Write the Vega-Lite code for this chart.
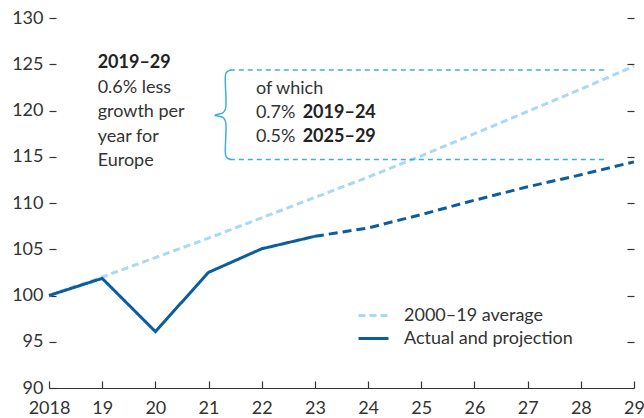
{
  "$schema": "https://vega.github.io/schema/vega-lite/v6.json",
  "width": 585,
  "height": 370,
  "autosize": "none",
  "padding": {"left": 49, "top": 18, "right": 10, "bottom": 30},
  "background": "white",
  "config": {
    "view": {"stroke": null},
    "font": "Lato",
    "text": {"font": "Lato", "fontSize": 18, "color": "#333333"}
  },
  "datasets": {
    "main": [
      {"year": 2018, "value": 100, "series": "2000–19 average"},
      {"year": 2019, "value": 102.0, "series": "2000–19 average"},
      {"year": 2020, "value": 104.1, "series": "2000–19 average"},
      {"year": 2021, "value": 106.2, "series": "2000–19 average"},
      {"year": 2022, "value": 108.4, "series": "2000–19 average"},
      {"year": 2023, "value": 110.6, "series": "2000–19 average"},
      {"year": 2024, "value": 112.8, "series": "2000–19 average"},
      {"year": 2025, "value": 115.1, "series": "2000–19 average"},
      {"year": 2026, "value": 117.5, "series": "2000–19 average"},
      {"year": 2027, "value": 119.9, "series": "2000–19 average"},
      {"year": 2028, "value": 122.3, "series": "2000–19 average"},
      {"year": 2029, "value": 124.8, "series": "2000–19 average"},
      {"year": 2018, "value": 100, "series": "Actual and projection"},
      {"year": 2019, "value": 101.85, "series": "Actual and projection"},
      {"year": 2020, "value": 96.1, "series": "Actual and projection"},
      {"year": 2021, "value": 102.5, "series": "Actual and projection"},
      {"year": 2022, "value": 105.05, "series": "Actual and projection"},
      {"year": 2023, "value": 106.4, "series": "Actual and projection"}
    ],
    "proj": [
      {"year": 2023, "value": 106.4},
      {"year": 2024, "value": 107.3},
      {"year": 2025, "value": 108.75},
      {"year": 2026, "value": 110.3},
      {"year": 2027, "value": 111.75},
      {"year": 2028, "value": 113.05},
      {"year": 2029, "value": 114.45}
    ],
    "guides": [
      {"x": 2021.4, "y": 124.38, "g": "top"},
      {"x": 2028.5, "y": 124.38, "g": "top"},
      {"x": 2021.4, "y": 114.7, "g": "bottom"},
      {"x": 2028.5, "y": 114.7, "g": "bottom"}
    ],
    "brace": [
      {"i": 1, "x": 2021.42, "y": 124.38},
      {"i": 2, "x": 2021.35, "y": 124.2},
      {"i": 3, "x": 2021.32, "y": 123.9},
      {"i": 4, "x": 2021.32, "y": 120.2},
      {"i": 5, "x": 2021.27, "y": 119.75},
      {"i": 6, "x": 2021.12, "y": 119.5},
      {"i": 7, "x": 2021.27, "y": 119.25},
      {"i": 8, "x": 2021.32, "y": 118.8},
      {"i": 9, "x": 2021.32, "y": 115.2},
      {"i": 10, "x": 2021.35, "y": 114.88},
      {"i": 11, "x": 2021.42, "y": 114.7}
    ],
    "textRegular": [
      {"x": 2018.915, "y": 122.43, "t": "0.6% less"},
      {"x": 2018.915, "y": 119.84, "t": "growth per"},
      {"x": 2018.915, "y": 117.14, "t": "year for"},
      {"x": 2018.915, "y": 114.54, "t": "Europe"},
      {"x": 2021.89, "y": 122.32, "t": "of which"},
      {"x": 2021.89, "y": 119.73, "t": "0.7%"},
      {"x": 2021.89, "y": 117.14, "t": "0.5%"}
    ],
    "textBold": [
      {"x": 2018.915, "y": 125.1, "t": "2019–29"},
      {"x": 2022.77, "y": 119.73, "t": "2019–24"},
      {"x": 2022.77, "y": 117.14, "t": "2025–29"}
    ]
  },
  "resolve": {"axis": {"y": "independent"}},
  "layer": [
    {
      "data": {"name": "main"},
      "mark": {"type": "line", "strokeWidth": 3},
      "encoding": {
        "x": {
          "field": "year", "type": "quantitative",
          "scale": {"domain": [2018, 2029], "nice": false, "zero": false},
          "axis": {
            "title": null, "grid": false,
            "values": [2018, 2019, 2020, 2021, 2022, 2023, 2024, 2025, 2026, 2027, 2028, 2029],
            "labelExpr": "datum.value == 2018 ? '2018' : substring(toString(datum.value), 2, 4)",
            "labelFont": "Lato", "labelFontSize": 18, "labelColor": "#333333",
            "domainColor": "#333333", "domainWidth": 1.2,
            "tickColor": "#333333", "tickSize": -7, "tickWidth": 1.2,
            "labelPadding": 18, "labelFlush": false, "labelBound": false
          }
        },
        "y": {
          "field": "value", "type": "quantitative",
          "scale": {"domain": [90, 130], "nice": false, "zero": false},
          "axis": {
            "title": null, "grid": false, "domain": false, "orient": "left",
            "values": [90, 95, 100, 105, 110, 115, 120, 125, 130],
            "offset": -7, "tickSize": 7, "tickColor": "#333333", "tickWidth": 1.2,
            "labelFont": "Lato", "labelFontSize": 18, "labelColor": "#333333",
            "labelPadding": 6
          }
        },
        "color": {
          "field": "series", "type": "nominal",
          "scale": {"domain": ["2000–19 average", "Actual and projection"], "range": ["#a9d9f3", "#0b5d9e"]},
          "legend": {
            "title": null, "orient": "none", "legendX": 311, "legendY": 284,
            "symbolType": "M-1.25,0L1.25,0", "symbolSize": 576, "symbolStrokeWidth": 3,
            "labelFont": "Lato", "labelFontSize": 18, "labelColor": "#333333",
            "labelOffset": 17, "rowPadding": 0, "labelLimit": 400
          }
        },
        "strokeDash": {
          "field": "series", "type": "nominal",
          "scale": {"domain": ["2000–19 average", "Actual and projection"], "range": [[7, 4], [1, 0]]},
          "legend": {
            "title": null, "orient": "none", "legendX": 311, "legendY": 284,
            "symbolType": "M-1.25,0L1.25,0", "symbolSize": 576, "symbolStrokeWidth": 3,
            "labelFont": "Lato", "labelFontSize": 18, "labelColor": "#333333",
            "labelOffset": 17, "rowPadding": 0, "labelLimit": 400
          }
        }
      }
    },
    {
      "data": {"name": "proj"},
      "mark": {"type": "line", "strokeWidth": 3, "color": "#0b5d9e", "strokeDash": [9, 5]},
      "encoding": {
        "x": {"field": "year", "type": "quantitative"},
        "y": {
          "field": "value", "type": "quantitative",
          "axis": {
            "title": null, "grid": false, "domain": false, "orient": "right",
            "values": [95, 100, 105, 110, 115, 120, 125, 130],
            "labels": false, "offset": -7, "tickSize": 7, "tickColor": "#333333", "tickWidth": 1.2
          }
        }
      }
    },
    {
      "data": {"name": "guides"},
      "mark": {"type": "line", "strokeWidth": 1.5, "color": "#3eaee2", "strokeDash": [5, 4]},
      "encoding": {
        "x": {"field": "x", "type": "quantitative"},
        "y": {"field": "y", "type": "quantitative", "axis": null},
        "detail": {"field": "g"}
      }
    },
    {
      "data": {"name": "brace"},
      "mark": {"type": "line", "strokeWidth": 1.5, "color": "#3eaee2", "interpolate": "catmull-rom"},
      "encoding": {
        "x": {"field": "x", "type": "quantitative"},
        "y": {"field": "y", "type": "quantitative", "axis": null},
        "order": {"field": "i", "type": "quantitative"}
      }
    },
    {
      "data": {"name": "textRegular"},
      "mark": {"type": "text", "align": "left", "baseline": "middle", "fontSize": 18, "font": "Lato", "color": "#333333"},
      "encoding": {
        "x": {"field": "x", "type": "quantitative"},
        "y": {"field": "y", "type": "quantitative", "axis": null},
        "text": {"field": "t"}
      }
    },
    {
      "data": {"name": "textBold"},
      "mark": {"type": "text", "align": "left", "baseline": "middle", "fontSize": 18, "font": "Lato", "fontWeight": "bold", "color": "#222222"},
      "encoding": {
        "x": {"field": "x", "type": "quantitative"},
        "y": {"field": "y", "type": "quantitative", "axis": null},
        "text": {"field": "t"}
      }
    }
  ]
}
